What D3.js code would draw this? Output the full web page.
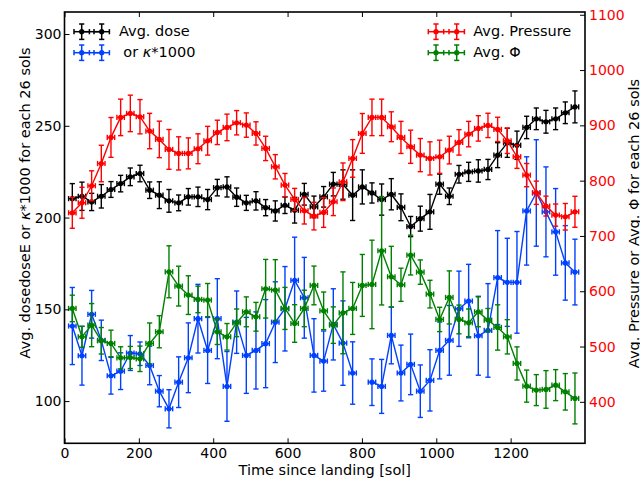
<!DOCTYPE html>
<html>
<head>
<meta charset="utf-8">
<script src="https://cdn.jsdelivr.net/npm/d3@7"></script>
<style>
  html, body { margin: 0; padding: 0; background: #fff; }
  svg { display: block; font-family: "DejaVu Sans", sans-serif; }
</style>
</head>
<body>
<svg id="chart" width="640" height="483"></svg>
<script>
// ---- Data (bin centres in sols since landing, 26-sol bins) ----
const sols = [21,47,73,99,125,151,177,203,229,255,281,307,333,359,385,411,437,463,489,515,541,567,593,619,645,671,697,723,749,775,801,827,853,879,905,931,957,983,1009,1035,1061,1087,1113,1139,1165,1191,1217,1243,1269,1295,1321,1347,1373];
const xTicks = [0,200,400,600,800,1000,1200];
const leftTicks = [100,150,200,250,300];
const rightTicks = [400,500,600,700,800,900,1000,1100];

// Avg. dose (left axis)
const dose = [210.3,211.6,208.5,211.6,215.3,218.5,222.2,224,214.9,212.2,209.1,208,211.3,211.3,209.8,216.3,216.7,211.1,
  208,209.1,205.4,203.6,206.7,204,212.7,205.8,211.3,218.2,218,212.2,216.7,213.4,209.8,212.7,205.6,195.1,199.4,203.1,218.2,211.6,223.6,224.9,225.4,226.2,234,240.7,239.4,249.1,253.8,252.2,253.8,257.1,260.3];
const doseErr = [8.2,7.7,4.7,6.4,4.3,4.5,4.8,4.5,4.5,7.3,6.2,4.3,4.5,5.3,5.5,4.5,5.5,5,
  4.1,5,4.4,5.5,4.5,7,5.9,5.9,5.6,6.4,8,13.8,9.3,5.5,8.5,8.5,7.3,5.5,6.8,9.5,5.5,4.5,4.8,5.2,6.1,5.5,6.8,7.9,7.7,6.1,5.9,6.2,5.9,5.9,8.7];

// kappa*1000 (left axis)
const kappa = [140.9,124.7,147.3,133.1,113.8,116.3,126.2,125.8,119.4,105.4,95.8,110.3,123.6,144.9,127.6,144.9,108,143,
  124.9,127.6,131.3,143,150.3,165.8,156.3,124.9,121.8,141.8,131.6,115.3,null,110.3,108,135.8,115.3,120,105.4,111.3,127.6,133.1,150.3,154.5,135.6,138.5,167.3,164.7,164.7,203.6,213.4,203.1,192.2,175.3,170.3];
const kappaErr = [21,16,13,11,10,10,9.5,6.4,10.5,8.5,10.4,13.8,19,18.7,18,21.8,19,17,
  20.7,21,24,22,23,23.5,22,20,16.4,19.4,23,17,null,12.7,14.7,15.5,15.2,16.5,14.3,16.7,15.5,19,20.5,20,21.5,25.5,25.6,24,27.7,29.5,29,24.5,23.6,20.3,17.9];

// Avg. Pressure (right axis)
const pressure = [741.9,760,790.8,831,878.2,914.4,921.6,915.6,889.7,874.6,856.5,849.3,849.3,857.7,872.2,887.3,896.3,904.7,
  900.5,885.4,858.3,825.1,792,766,745.6,735.9,742.5,761.8,798,840.2,885.4,914.4,914.4,897.5,878.2,861.3,846.2,840.2,843.2,855.3,869.2,884.2,894.5,899.9,892.7,872.2,843.2,810,778.1,754,737.7,734.7,743.7];
const pressureErr = [28,28,27,33,36,33,33,31,32,33,36,30,28,27,26,22,24,22,
  22,21,22,22,21,20,24,25,27,25,34,34,36,33,33,27,29,30,30,30,30,25,23,23,23,22,22,23,21,21,21,18,20,24,28];

// Avg. Phi (right axis)
const phi = [568.9,517.6,538.7,510.4,505.6,479.6,480.2,477.8,505.6,526.7,635.2,609.3,593,585.2,584,526.7,517.6,542.9,
  562.8,553.8,604.5,602.1,568.9,541.7,568.9,610.5,564.6,538.7,561,568.9,610.5,612.3,673.2,626.2,611.7,665.4,634.6,594.8,549,588.8,549,542.9,562.8,547.8,534.5,517.6,469.4,428.4,421.2,422.4,430.2,418.1,406.1];
const phiErr = [24,19,39,24,24,20,20,23,37,29,47,36,35,24,30,23,24,25,
  27,26,53,55,38,34,33,35,34,33,74,47,56,80,98,55,30,36,22,25,22,48,26,25,27,21,41,31,30,29,28,34,28,33,46];

const solHalfWidth = 10; // horizontal error (sols)

// ---- Layout ----
const svg = d3.select("#chart");
const L = 64.5, R = 585, T = 12, B = 443.3;
const x = d3.scaleLinear().domain([0, 1400]).range([L, R]);
const yL = d3.scaleLinear().domain([77, 312]).range([B, T]);
const yR = d3.scaleLinear().domain([325, 1105]).range([B, T]);

const COLORS = { dose: "#000000", kappa: "#0040ff", pressure: "#ff0000", phi: "#008000" };
const cap = 2.6;

svg.append("rect").attr("width", 640).attr("height", 483).attr("fill", "#fff");

const plot = svg.append("g");
function drawSeries(vals, errs, y, color) {
  const pts = sols.map((s, i) => ({ s, v: vals[i], e: errs[i] }));
  const g = plot.append("g").attr("stroke", color).attr("fill", "none");
  g.append("path")
    .datum(pts)
    .attr("stroke-width", 1.4)
    .attr("stroke-linejoin", "round")
    .attr("d", d3.line().defined(d => d.v != null).x(d => x(d.s)).y(d => y(d.v)));
  const def = pts.filter(d => d.v != null);
  const eb = g.selectAll("g.eb").data(def).join("g").attr("class", "eb").attr("stroke-width", 1.4);
  // vertical bars
  eb.append("line").attr("x1", d => x(d.s)).attr("x2", d => x(d.s))
    .attr("y1", d => y(d.v - d.e)).attr("y2", d => y(d.v + d.e));
  eb.append("line").attr("x1", d => x(d.s) - cap).attr("x2", d => x(d.s) + cap)
    .attr("y1", d => y(d.v - d.e)).attr("y2", d => y(d.v - d.e));
  eb.append("line").attr("x1", d => x(d.s) - cap).attr("x2", d => x(d.s) + cap)
    .attr("y1", d => y(d.v + d.e)).attr("y2", d => y(d.v + d.e));
  // horizontal bars
  eb.append("line").attr("x1", d => x(d.s - solHalfWidth)).attr("x2", d => x(d.s + solHalfWidth))
    .attr("y1", d => y(d.v)).attr("y2", d => y(d.v));
  eb.append("line").attr("x1", d => x(d.s - solHalfWidth)).attr("x2", d => x(d.s - solHalfWidth))
    .attr("y1", d => y(d.v) - cap).attr("y2", d => y(d.v) + cap);
  eb.append("line").attr("x1", d => x(d.s + solHalfWidth)).attr("x2", d => x(d.s + solHalfWidth))
    .attr("y1", d => y(d.v) - cap).attr("y2", d => y(d.v) + cap);
  g.selectAll("circle").data(def).join("circle")
    .attr("cx", d => x(d.s)).attr("cy", d => y(d.v)).attr("r", 2.6)
    .attr("fill", color).attr("stroke", "none");
}
drawSeries(dose, doseErr, yL, COLORS.dose);
drawSeries(kappa, kappaErr, yL, COLORS.kappa);
drawSeries(pressure, pressureErr, yR, COLORS.pressure);
drawSeries(phi, phiErr, yR, COLORS.phi);

// ---- Axes ----
const fs = 14;
const fmt = d3.format("d");
function styleAxis(g, color) {
  g.select(".domain").remove();
  g.selectAll(".tick line").attr("stroke", "#000").attr("stroke-width", 1);
  g.selectAll(".tick text").attr("fill", color).attr("font-size", fs).attr("font-family", "DejaVu Sans");
}
svg.append("g").attr("transform", `translate(0,${B})`)
  .call(d3.axisBottom(x).tickValues(xTicks).tickFormat(fmt).tickSizeInner(-5).tickSizeOuter(0).tickPadding(5))
  .call(g => styleAxis(g, "#000"));
svg.append("g").attr("transform", `translate(0,${T})`)
  .call(d3.axisTop(x).tickValues(xTicks).tickSizeInner(-5).tickSizeOuter(0).tickFormat(""))
  .call(g => styleAxis(g, "#000"));
svg.append("g").attr("transform", `translate(${L},0)`)
  .call(d3.axisLeft(yL).tickValues(leftTicks).tickFormat(fmt).tickSizeInner(-5).tickSizeOuter(0).tickPadding(3))
  .call(g => styleAxis(g, "#000"));
svg.append("g").attr("transform", `translate(${R},0)`)
  .call(d3.axisRight(yR).tickValues(rightTicks).tickFormat(fmt).tickSizeInner(-5).tickSizeOuter(0).tickPadding(4))
  .call(g => styleAxis(g, "#ff0000"));

svg.append("rect").attr("x", L).attr("y", T).attr("width", R - L).attr("height", B - T)
  .attr("fill", "none").attr("stroke", "#000").attr("stroke-width", 1.6);

// ---- Axis labels ----
svg.append("text").attr("x", (L + R) / 2).attr("y", 474.5).attr("text-anchor", "middle")
  .attr("font-size", 14.5).text("Time since landing [sol]");

const ylab = svg.append("text").attr("transform", "translate(30,203) rotate(-90)")
  .attr("text-anchor", "middle").attr("font-size", 14.5);
ylab.append("tspan").text("Avg. dosedoseE or ");
ylab.append("tspan").attr("font-style", "italic").text("κ");
ylab.append("tspan").text("*1000 for each 26 sols");

svg.append("text").attr("transform", "translate(638.5,223.5) rotate(-90)")
  .attr("text-anchor", "middle").attr("font-size", 14.5)
  .text("Avg. Pressure or Avg. Φ for each 26 sols");

// ---- Legends ----
function legendHandle(xa, xb, yc, color) {
  const g = svg.append("g").attr("stroke", color).attr("stroke-width", 1.5);
  g.append("line").attr("x1", xa).attr("x2", xb).attr("y1", yc).attr("y2", yc);
  [xa, xb].forEach(xm => {
    g.append("line").attr("x1", xm).attr("x2", xm).attr("y1", yc - 7.7).attr("y2", yc + 7.7);
    g.append("line").attr("x1", xm - cap).attr("x2", xm + cap).attr("y1", yc - 7.7).attr("y2", yc - 7.7);
    g.append("line").attr("x1", xm - cap).attr("x2", xm + cap).attr("y1", yc + 7.7).attr("y2", yc + 7.7);
    g.append("line").attr("x1", xm - 7.7).attr("x2", xm + 7.7).attr("y1", yc).attr("y2", yc);
    g.append("line").attr("x1", xm - 7.7).attr("x2", xm - 7.7).attr("y1", yc - cap).attr("y2", yc + cap);
    g.append("line").attr("x1", xm + 7.7).attr("x2", xm + 7.7).attr("y1", yc - cap).attr("y2", yc + cap);
    g.append("circle").attr("cx", xm).attr("cy", yc).attr("r", 2.6).attr("fill", color).attr("stroke", "none");
  });
}
legendHandle(81.7, 101.7, 31.7, COLORS.dose);
legendHandle(81.7, 101.7, 52.7, COLORS.kappa);
legendHandle(436, 456.7, 31.7, COLORS.pressure);
legendHandle(436, 456.7, 52.7, COLORS.phi);

const lfs = 14.5;
svg.append("text").attr("x", 119).attr("y", 35.5).attr("font-size", lfs).text("Avg. dose");
const k = svg.append("text").attr("x", 123.3).attr("y", 57).attr("font-size", lfs);
k.append("tspan").text("or ");
k.append("tspan").attr("font-style", "italic").text("κ");
k.append("tspan").text("*1000");
svg.append("text").attr("x", 473.3).attr("y", 35.5).attr("font-size", lfs).text("Avg. Pressure");
svg.append("text").attr("x", 473.3).attr("y", 57).attr("font-size", lfs).text("Avg. Φ");
</script>
</body>
</html>
